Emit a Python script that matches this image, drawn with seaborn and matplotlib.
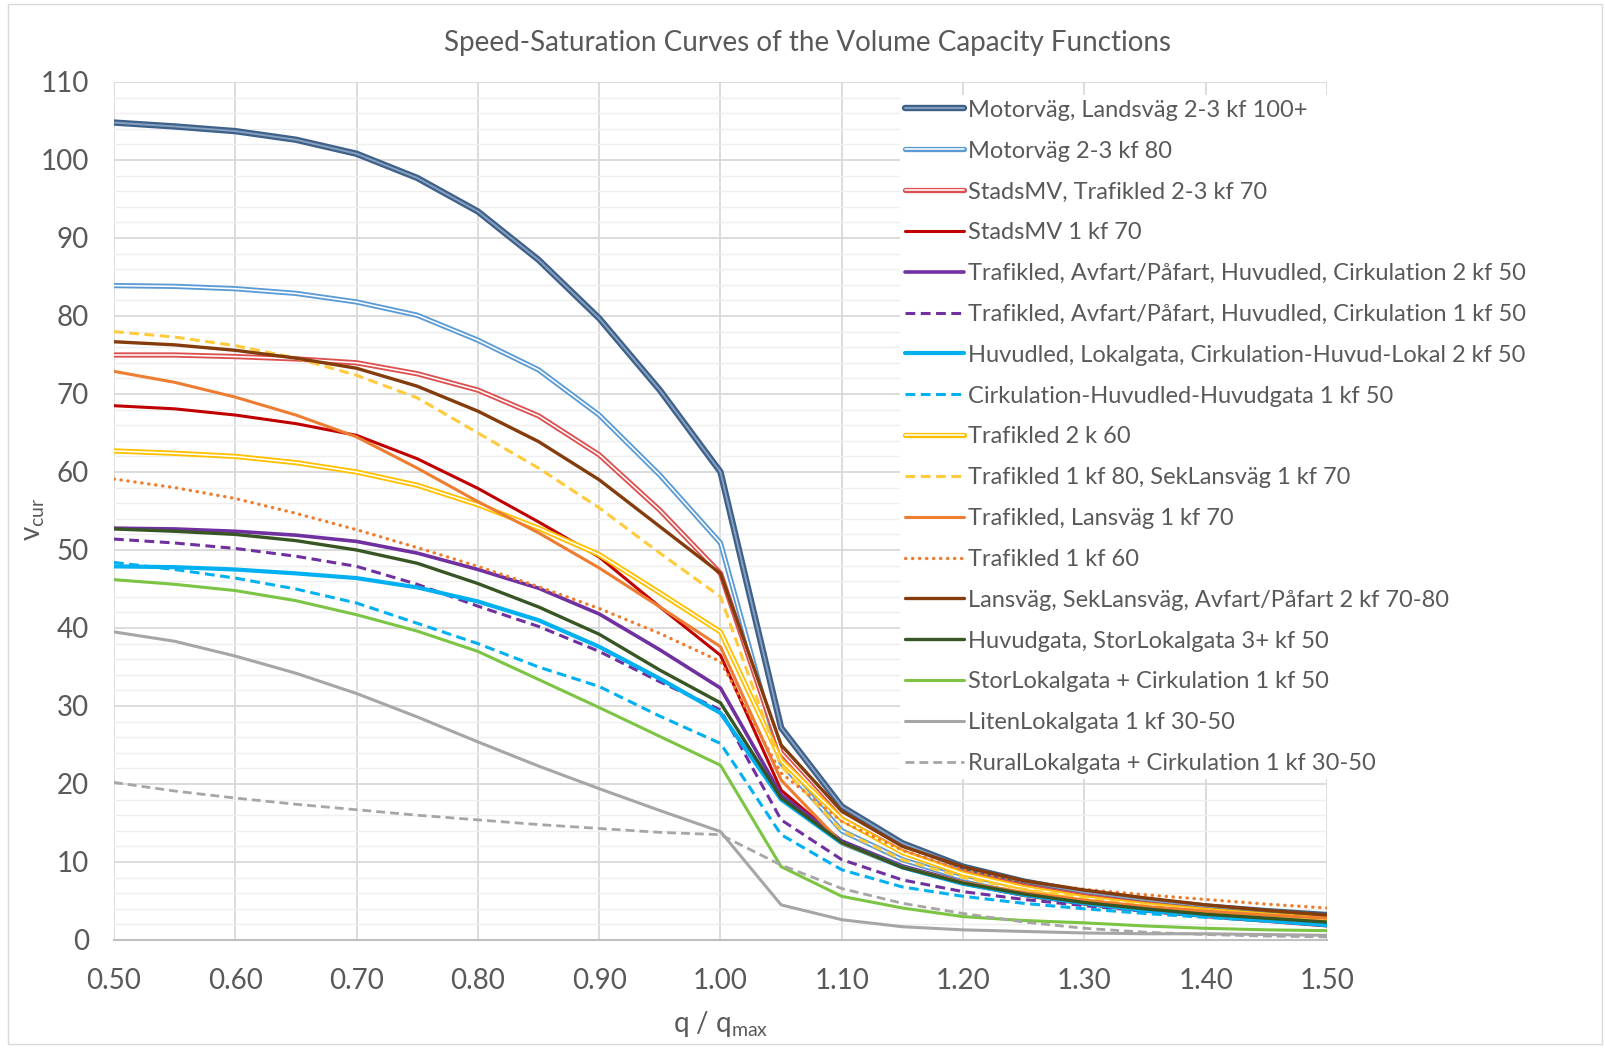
"""
Speed-saturation curves of the volume capacity functions (VDF families).
Values read off the original Excel chart.
"""
import matplotlib
matplotlib.use("Agg")
import matplotlib.pyplot as plt
from matplotlib.ticker import MultipleLocator, FormatStrFormatter
from matplotlib.patches import Rectangle
import pandas as pd
import seaborn as sns

# ---- data -------------------------------------------------------------
q_ratio = [0.50, 0.55, 0.60, 0.65, 0.70, 0.75, 0.80, 0.85, 0.90, 0.95, 1.00,
           1.05, 1.10, 1.15, 1.20, 1.25, 1.30, 1.35, 1.40, 1.45, 1.50]

motorvag_100 = [104.8, 104.3, 103.7, 102.6, 100.8, 97.7, 93.4, 87.2, 79.7, 70.5, 60.0,
                27.2, 17.1, 12.4, 9.4, 7.5, 6.1, 5.1, 4.3, 3.7, 3.2]
motorvag_80 = [83.9, 83.8, 83.5, 82.9, 81.8, 80.1, 76.9, 73.1, 67.3, 59.6, 50.9,
               22.7, 14.0, 10.3, 7.9, 6.3, 5.2, 4.3, 3.6, 3.1, 2.6]
stadsmv_2_70 = [75.0, 75.0, 74.8, 74.5, 74.0, 72.6, 70.5, 67.2, 62.2, 55.1, 47.0,
                24.0, 15.5, 11.3, 8.6, 6.9, 5.6, 4.6, 3.8, 3.0, 2.4]
stadsmv_1_70 = [68.5, 68.1, 67.3, 66.2, 64.7, 61.7, 57.9, 53.6, 49.1, 42.7, 36.5,
                19.2, 12.6, 9.3, 7.2, 5.7, 4.6, 3.7, 3.0, 2.4, 1.8]
trafikled_2_50 = [52.8, 52.7, 52.4, 51.9, 51.1, 49.6, 47.5, 45.1, 41.8, 37.2, 32.3,
                  18.6, 12.7, 9.5, 7.4, 5.9, 4.8, 3.9, 3.2, 2.6, 2.1]
trafikled_1_50 = [51.4, 50.9, 50.2, 49.2, 47.9, 45.6, 42.8, 40.2, 37.0, 33.1, 29.5,
                  15.4, 10.3, 7.7, 6.2, 5.2, 4.4, 3.7, 3.1, 2.6, 2.1]
huvudled_2_50 = [47.9, 47.8, 47.5, 47.0, 46.4, 45.2, 43.4, 41.0, 37.6, 33.5, 29.1,
                 18.0, 12.4, 9.3, 7.2, 5.8, 4.7, 3.8, 3.1, 2.5, 1.9]
cirkulation_1_50 = [48.4, 47.5, 46.4, 45.0, 43.2, 40.6, 38.0, 35.0, 32.5, 28.7, 25.2,
                    13.5, 9.0, 6.8, 5.6, 4.7, 4.0, 3.4, 2.9, 2.4, 2.0]
trafikled_2_60 = [62.7, 62.4, 62.0, 61.2, 60.0, 58.3, 55.8, 52.8, 49.4, 44.5, 39.5,
                  23.0, 15.5, 11.2, 8.5, 6.7, 5.4, 4.5, 3.8, 3.2, 2.7]
trafikled_1_80 = [78.0, 77.3, 76.2, 74.6, 72.4, 69.5, 65.0, 60.5, 55.4, 49.6, 44.0,
                  22.3, 14.0, 10.3, 8.0, 6.5, 5.4, 4.5, 3.8, 3.2, 2.7]
lansvag_1_70 = [72.9, 71.5, 69.6, 67.3, 64.5, 60.5, 56.2, 52.2, 47.7, 42.7, 37.6,
                20.5, 12.4, 9.3, 7.4, 6.1, 5.1, 4.3, 3.7, 3.2, 2.8]
trafikled_1_60 = [59.1, 58.0, 56.6, 54.7, 52.6, 50.3, 47.9, 45.3, 42.5, 39.3, 35.7,
                  21.4, 15.2, 11.5, 9.0, 7.5, 6.5, 5.8, 5.2, 4.6, 4.1]
lansvag_2_7080 = [76.7, 76.3, 75.6, 74.6, 73.3, 71.0, 67.8, 63.9, 59.0, 53.0, 47.0,
                  25.0, 16.5, 12.0, 9.4, 7.6, 6.4, 5.4, 4.5, 3.8, 3.2]
huvudgata_3_50 = [52.7, 52.4, 52.0, 51.2, 50.0, 48.3, 45.7, 42.7, 39.2, 34.6, 30.4,
                  18.2, 12.5, 9.3, 7.3, 5.9, 4.8, 4.0, 3.3, 2.8, 2.3]
storlokal_1_50 = [46.2, 45.6, 44.8, 43.5, 41.7, 39.6, 37.0, 33.4, 29.8, 26.1, 22.4,
                  9.4, 5.6, 4.1, 3.0, 2.5, 2.2, 1.8, 1.5, 1.3, 1.2]
litenlokal_1 = [39.5, 38.3, 36.4, 34.2, 31.6, 28.6, 25.4, 22.3, 19.4, 16.6, 13.9,
                4.5, 2.6, 1.7, 1.3, 1.1, 0.9, 0.8, 0.8, 0.7, 0.6]
rurallokal_1 = [20.2, 19.1, 18.2, 17.4, 16.7, 16.0, 15.4, 14.8, 14.3, 13.8, 13.5,
                9.6, 6.6, 4.7, 3.4, 2.3, 1.5, 1.0, 0.7, 0.5, 0.4]

series_labels = [
    "Motorväg, Landsväg 2-3 kf 100+",
    "Motorväg 2-3 kf 80",
    "StadsMV, Trafikled 2-3 kf 70",
    "StadsMV 1 kf 70",
    "Trafikled, Avfart/Påfart, Huvudled, Cirkulation 2 kf 50",
    "Trafikled, Avfart/Påfart, Huvudled, Cirkulation 1 kf 50",
    "Huvudled, Lokalgata, Cirkulation-Huvud-Lokal 2 kf 50",
    "Cirkulation-Huvudled-Huvudgata 1 kf 50",
    "Trafikled 2 k 60",
    "Trafikled 1 kf 80, SekLansväg 1 kf 70",
    "Trafikled, Lansväg 1 kf 70",
    "Trafikled 1 kf 60",
    "Lansväg, SekLansväg, Avfart/Påfart 2 kf 70-80",
    "Huvudgata, StorLokalgata 3+ kf 50",
    "StorLokalgata + Cirkulation 1 kf 50",
    "LitenLokalgata 1 kf 30-50",
    "RuralLokalgata + Cirkulation 1 kf 30-50",
]
series_values = [motorvag_100, motorvag_80, stadsmv_2_70, stadsmv_1_70,
                 trafikled_2_50, trafikled_1_50, huvudled_2_50, cirkulation_1_50,
                 trafikled_2_60, trafikled_1_80, lansvag_1_70, trafikled_1_60,
                 lansvag_2_7080, huvudgata_3_50, storlokal_1_50, litenlokal_1,
                 rurallokal_1]

# ---- styles (color, width, linestyle, inner "double line" color) ------
DASH = (0, (3.2, 1.8))
DOT = (0, (0.1, 2.0))
styles = [
    ("#3E6089", 4.6, "-", "#86A1C0"),
    ("#5B9BD5", 3.8, "-", "white"),
    ("#DD5050", 3.8, "-", "white"),
    ("#C00000", 2.2, "-", None),
    ("#7030A0", 2.6, "-", None),
    ("#7030A0", 2.2, DASH, None),
    ("#00B0F0", 3.0, "-", None),
    ("#00B0F0", 2.2, DASH, None),
    ("#FFC000", 3.8, "-", "white"),
    ("#FFCB3C", 2.2, DASH, None),
    ("#ED7D31", 2.2, "-", None),
    ("#ED7D31", 2.4, DOT, None),
    ("#843C0C", 2.4, "-", None),
    ("#375623", 2.4, "-", None),
    ("#7CC444", 2.2, "-", None),
    ("#A6A6A6", 2.2, "-", None),
    ("#A6A6A6", 2.0, DASH, None),
]

TXT = "#595959"
GRID = "#D9D9D9"

sns.set_theme(style="white")
plt.rcParams.update({
    "font.family": ["Lato", "DejaVu Sans"],
    "mathtext.fontset": "custom",
    "mathtext.rm": "Lato",
    "mathtext.it": "Lato",
})

W, H = 1606, 1048
fig = plt.figure(figsize=(W / 100, H / 100), dpi=100)
ax = fig.add_axes([114 / W, 1 - 940 / H, (1327 - 114) / W, (940 - 82) / H])

handles = []
for label, values, (color, lw, ls, inner) in zip(series_labels, series_values, styles):
    df = pd.DataFrame({"q": q_ratio, "v": values})
    sns.lineplot(data=df, x="q", y="v", ax=ax, color=color, linewidth=lw,
                 linestyle=ls, sort=False, legend=False,
                 dash_capstyle="round" if ls == DOT else "butt")
    outer = ax.lines[-1]
    if inner is not None:
        sns.lineplot(data=df, x="q", y="v", ax=ax, color=inner,
                     linewidth=lw * 0.3, sort=False, legend=False)
        handles.append((outer, ax.lines[-1]))
    else:
        handles.append(outer)

ax.set_xlim(0.5, 1.5)
ax.set_ylim(0, 110)
ax.set_xticks([0.5, 0.6, 0.7, 0.8, 0.9, 1.0, 1.1, 1.2, 1.3, 1.4, 1.5])
ax.xaxis.set_major_formatter(FormatStrFormatter("%.2f"))
ax.yaxis.set_major_locator(MultipleLocator(10))
ax.yaxis.set_minor_locator(MultipleLocator(2))
ax.grid(which="major", color=GRID, linewidth=1.3, zorder=0)
ax.grid(which="minor", axis="y", color="#EFEFEF", linewidth=1.0, zorder=0)
ax.set_axisbelow(True)
for side in ["top", "right", "left"]:
    ax.spines[side].set_visible(False)
ax.spines["bottom"].set_color("#BFBFBF")
ax.spines["bottom"].set_linewidth(1.5)
ax.tick_params(axis="both", which="both", length=0, labelsize=20, labelcolor=TXT)
ax.tick_params(axis="x", pad=20)
ax.tick_params(axis="y", pad=18)

ax.set_xlabel(r"q / q$_{\mathrm{max}}$", fontsize=20, color=TXT)
ax.set_ylabel(r"v$_{\mathrm{cur}}$", fontsize=20, color=TXT)
ax.xaxis.set_label_coords(0.5, -0.08)
ax.yaxis.set_label_coords(-0.055, 0.49)
fig.text(0.503, 1 - 43 / H, "Speed-Saturation Curves of the Volume Capacity Functions",
         ha="center", va="center", fontsize=20, color=TXT)

leg = ax.legend(handles, series_labels, loc="upper left",
                bbox_to_anchor=(900 / W, 1 - 95 / H), bbox_transform=fig.transFigure,
                fontsize=17, labelcolor=TXT, frameon=True, facecolor="white",
                edgecolor="none", framealpha=1.0, fancybox=False,
                handlelength=2.5, handletextpad=0.18, labelspacing=0.84,
                borderpad=0.2, borderaxespad=0)

# thin chart-area border like the Excel chart
fig.patches.append(Rectangle((8 / W, 4 / H), 1 - 12 / W, 1 - 8 / H,
                             transform=fig.transFigure, fill=False,
                             edgecolor="#D9D9D9", linewidth=1.0))

fig.savefig("out.png", dpi=100, facecolor="white")
